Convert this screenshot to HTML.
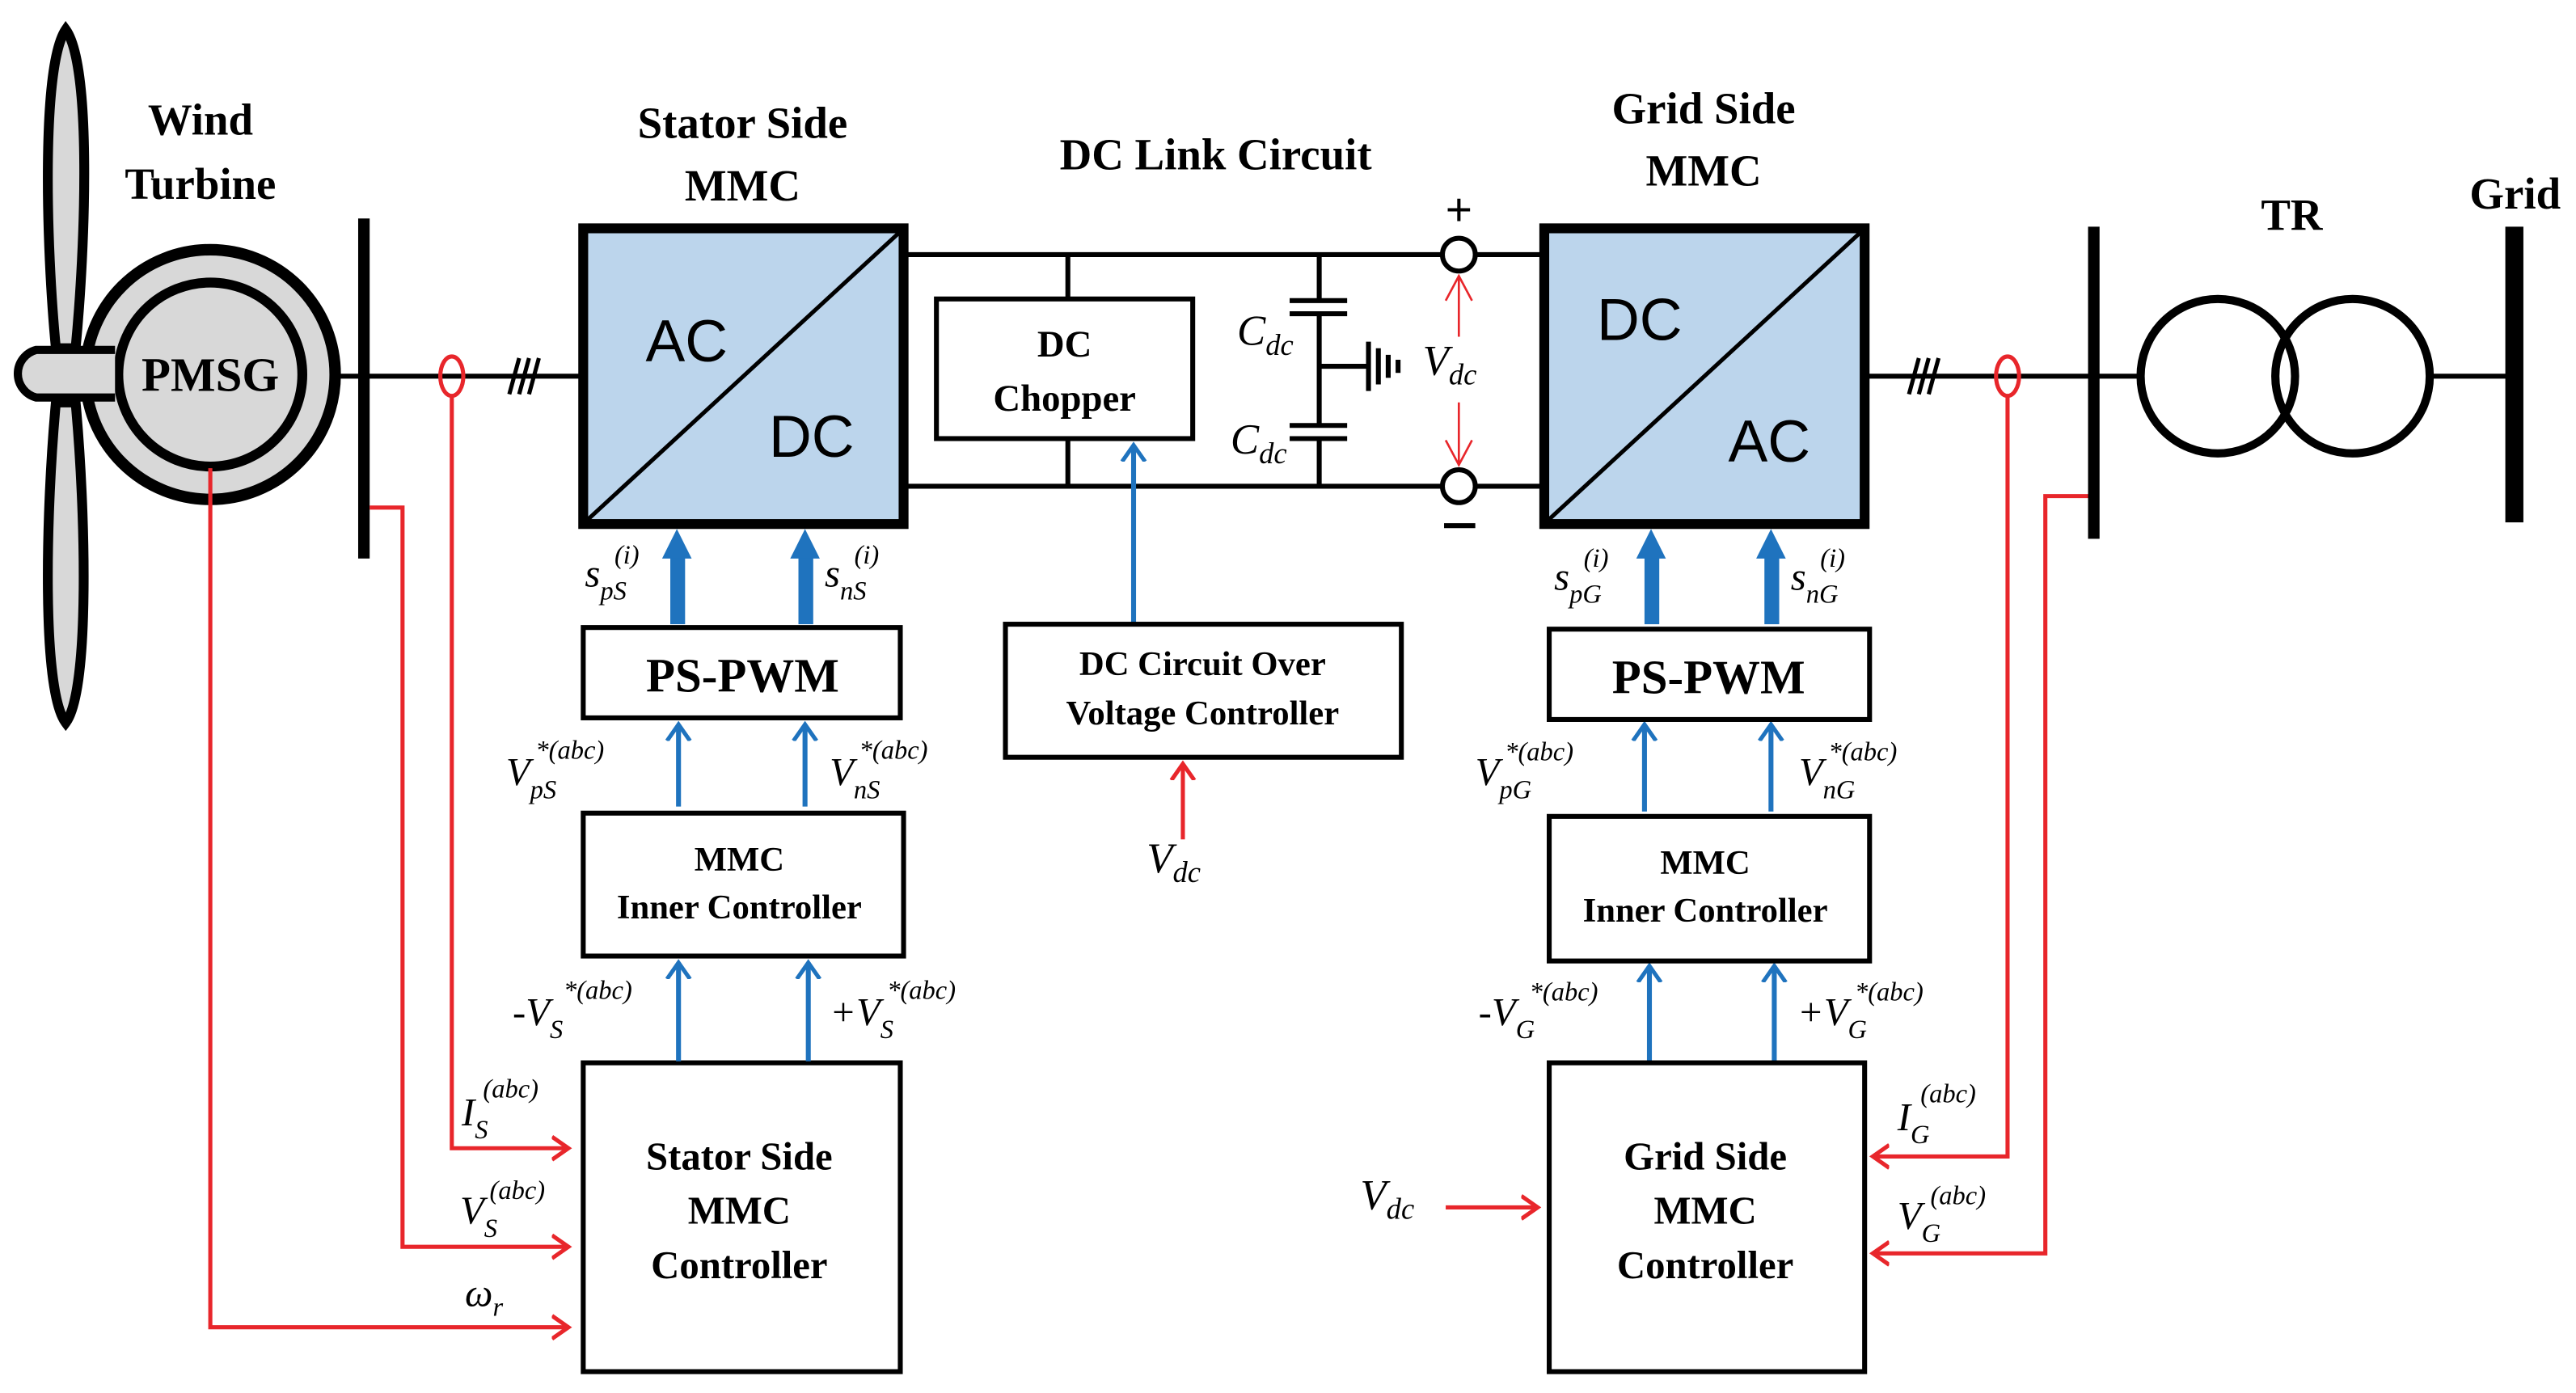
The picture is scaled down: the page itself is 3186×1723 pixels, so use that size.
<!DOCTYPE html>
<html><head><meta charset="utf-8"><style>
html,body{margin:0;padding:0;background:#fff;}
svg{display:block;}
.t{font-family:"Liberation Serif",serif;font-weight:bold;fill:#000;}
.m{font-family:"Liberation Serif",serif;font-style:italic;fill:#000;}
.s{font-family:"Liberation Sans",sans-serif;fill:#000;}
</style></head><body>
<svg width="3186" height="1723" viewBox="0 0 1568 848" xmlns="http://www.w3.org/2000/svg">
<defs>
<marker id="ab" markerWidth="20" markerHeight="20" refX="10" refY="10" orient="auto" markerUnits="userSpaceOnUse"><path d="M0,3 L10,10 L0,17" fill="none" stroke="#1f73be" stroke-width="2.5"/></marker>
<marker id="ar" markerWidth="20" markerHeight="20" refX="10" refY="10" orient="auto" markerUnits="userSpaceOnUse"><path d="M0,3 L10,10 L0,17" fill="none" stroke="#e8262b" stroke-width="2.5"/></marker>
</defs>
<rect width="1568" height="848" fill="#fff"/>

<!-- turbine blades -->
<path d="M40,18 C56,40 52,150 46,212 L34,212 C28,150 25,40 40,18Z" fill="#d8d8d8" stroke="#000" stroke-width="6"/>
<path d="M40,440 C55,420 52,310 46,245 L34,245 C28,310 25,420 40,440Z" fill="#d8d8d8" stroke="#000" stroke-width="6"/>
<!-- PMSG -->
<circle cx="128" cy="228" r="76" fill="#d8d8d8" stroke="#000" stroke-width="7"/>
<circle cx="128" cy="228" r="56" fill="#d8d8d8" stroke="#000" stroke-width="6"/>
<path d="M70,213 L22,213 A15,15 0 0 0 22,242 L70,242" fill="#d8d8d8" stroke="#000" stroke-width="5"/>
<text x="128" y="238" class="t" font-size="29" text-anchor="middle">PMSG</text>
<text x="122" y="82" class="t" font-size="27" text-anchor="middle">Wind</text>
<text x="122" y="121" class="t" font-size="27" text-anchor="middle">Turbine</text>

<!-- AC line left -->
<line x1="204" y1="229" x2="355" y2="229" stroke="#000" stroke-width="3"/>
<rect x="218" y="133" width="7" height="207" fill="#000"/>
<ellipse cx="275" cy="229" rx="7" ry="12" fill="none" stroke="#e8262b" stroke-width="2.5"/>
<g stroke="#000" stroke-width="2.5"><line x1="310" y1="240" x2="316" y2="218"/><line x1="316" y1="240" x2="322" y2="218"/><line x1="322" y1="240" x2="328" y2="218"/></g>

<!-- Stator MMC -->
<rect x="355" y="139" width="195" height="180" fill="#bcd5ec" stroke="#000" stroke-width="6"/>
<line x1="357" y1="317" x2="548" y2="141" stroke="#000" stroke-width="2.5"/>
<text x="418" y="220" class="s" font-size="36" text-anchor="middle">AC</text>
<text x="494" y="278" class="s" font-size="36" text-anchor="middle">DC</text>
<text x="452" y="84" class="t" font-size="27" text-anchor="middle">Stator Side</text>
<text x="452" y="122" class="t" font-size="27" text-anchor="middle">MMC</text>

<!-- DC link -->
<g stroke="#000" stroke-width="3" fill="none">
<line x1="550" y1="155" x2="878" y2="155"/><line x1="898" y1="155" x2="940" y2="155"/>
<line x1="550" y1="296" x2="878" y2="296"/><line x1="898" y1="296" x2="940" y2="296"/>
<line x1="650" y1="155" x2="650" y2="182"/><line x1="650" y1="267" x2="650" y2="296"/>
<line x1="803" y1="155" x2="803" y2="183"/><line x1="803" y1="191" x2="803" y2="259"/><line x1="803" y1="267" x2="803" y2="296"/>
<line x1="785" y1="183" x2="820" y2="183"/><line x1="785" y1="191" x2="820" y2="191"/>
<line x1="785" y1="259" x2="820" y2="259"/><line x1="785" y1="267" x2="820" y2="267"/>
<line x1="803" y1="223" x2="832" y2="223"/>
<line x1="833" y1="208" x2="833" y2="238"/><line x1="839" y1="212" x2="839" y2="234"/><line x1="845" y1="216" x2="845" y2="230"/><line x1="851" y1="219" x2="851" y2="227"/>
<circle cx="888" cy="155" r="10" stroke-width="3"/><circle cx="888" cy="296" r="10" stroke-width="3"/>
</g>
<rect x="570" y="182" width="156" height="85" fill="#fff" stroke="#000" stroke-width="3"/>
<text x="648" y="217" class="t" font-size="23" text-anchor="middle">DC</text>
<text x="648" y="250" class="t" font-size="23" text-anchor="middle">Chopper</text>
<text x="740" y="103" class="t" font-size="27" text-anchor="middle">DC Link Circuit</text>
<text x="753" y="210" class="m" font-size="26">C<tspan font-size="18" dy="6">dc</tspan></text>
<text x="749" y="276" class="m" font-size="26">C<tspan font-size="18" dy="6">dc</tspan></text>
<text x="888" y="137" class="s" font-size="28" text-anchor="middle">+</text>
<line x1="879" y1="320" x2="898" y2="320" stroke="#000" stroke-width="3"/>
<g stroke="#e8262b" stroke-width="1.3" fill="none">
<line x1="888" y1="168" x2="888" y2="205"/>
<line x1="888" y1="245" x2="888" y2="283"/>
<path d="M880,183 L888,168 L896,183 M880,268 L888,283 L896,268"/>
</g>
<text x="866" y="228" class="m" font-size="26">V<tspan font-size="18" dy="6">dc</tspan></text>

<!-- Grid MMC -->
<rect x="940" y="139" width="195" height="180" fill="#bcd5ec" stroke="#000" stroke-width="6"/>
<line x1="942" y1="317" x2="1133" y2="141" stroke="#000" stroke-width="2.5"/>
<text x="998" y="207" class="s" font-size="36" text-anchor="middle">DC</text>
<text x="1077" y="281" class="s" font-size="36" text-anchor="middle">AC</text>
<text x="1037" y="75" class="t" font-size="27" text-anchor="middle">Grid Side</text>
<text x="1037" y="113" class="t" font-size="27" text-anchor="middle">MMC</text>

<!-- right AC side -->
<line x1="1135" y1="229" x2="1302" y2="229" stroke="#000" stroke-width="3"/>
<g stroke="#000" stroke-width="2.5"><line x1="1162" y1="240" x2="1168" y2="218"/><line x1="1168" y1="240" x2="1174" y2="218"/><line x1="1174" y1="240" x2="1180" y2="218"/></g>
<ellipse cx="1222" cy="229" rx="7" ry="12" fill="none" stroke="#e8262b" stroke-width="2.5"/>
<rect x="1271" y="138" width="7" height="190" fill="#000"/>
<circle cx="1350" cy="229" r="47" fill="none" stroke="#000" stroke-width="5"/>
<circle cx="1432" cy="229" r="47" fill="none" stroke="#000" stroke-width="5"/>
<line x1="1479" y1="229" x2="1527" y2="229" stroke="#000" stroke-width="3"/>
<rect x="1525" y="138" width="11" height="180" fill="#000"/>
<text x="1395" y="140" class="t" font-size="27" text-anchor="middle">TR</text>
<text x="1531" y="127" class="t" font-size="27" text-anchor="middle">Grid</text>

<!-- stator control chain -->
<rect x="355" y="382" width="193" height="55" fill="#fff" stroke="#000" stroke-width="3"/>
<text x="452" y="421" class="t" font-size="29" text-anchor="middle">PS-PWM</text>
<rect x="355" y="495" width="195" height="87" fill="#fff" stroke="#000" stroke-width="3"/>
<text x="450" y="530" class="t" font-size="21" text-anchor="middle">MMC</text>
<text x="450" y="559" class="t" font-size="21" text-anchor="middle">Inner Controller</text>
<rect x="355" y="647" width="193" height="188" fill="#fff" stroke="#000" stroke-width="3"/>
<text x="450" y="712" class="t" font-size="24" text-anchor="middle">Stator Side</text>
<text x="450" y="745" class="t" font-size="24" text-anchor="middle">MMC</text>
<text x="450" y="778" class="t" font-size="24" text-anchor="middle">Controller</text>

<g fill="#1f73be">
<rect x="408" y="337" width="9" height="43"/><path d="M403,340 L412,322 L421,340Z"/>
<rect x="486" y="337" width="9" height="43"/><path d="M481,340 L490,322 L499,340Z"/>
<rect x="1001" y="337" width="9" height="43"/><path d="M996,340 L1005,322 L1014,340Z"/>
<rect x="1074" y="337" width="9" height="43"/><path d="M1069,340 L1078,322 L1087,340Z"/>
</g>
<g stroke="#1f73be" stroke-width="3" fill="none">
<line x1="413" y1="491" x2="413" y2="441" marker-end="url(#ab)"/>
<line x1="490" y1="491" x2="490" y2="441" marker-end="url(#ab)"/>
<line x1="413" y1="646" x2="413" y2="586" marker-end="url(#ab)"/>
<line x1="492" y1="646" x2="492" y2="586" marker-end="url(#ab)"/>
<line x1="1001" y1="494" x2="1001" y2="441" marker-end="url(#ab)"/>
<line x1="1078" y1="494" x2="1078" y2="441" marker-end="url(#ab)"/>
<line x1="1004" y1="646" x2="1004" y2="588" marker-end="url(#ab)"/>
<line x1="1080" y1="646" x2="1080" y2="588" marker-end="url(#ab)"/>
<line x1="690" y1="379" x2="690" y2="271" marker-end="url(#ab)"/>
</g>

<!-- labels stator -->
<text x="356" y="357" class="m" font-size="24">s<tspan font-size="16" dy="8">pS</tspan></text>
<text x="374" y="343" class="m" font-size="16">(i)</text>
<text x="502" y="357" class="m" font-size="24">s<tspan font-size="16" dy="8">nS</tspan></text>
<text x="520" y="343" class="m" font-size="16">(i)</text>
<text x="308" y="478" class="m" font-size="24">V<tspan font-size="16" dy="8">pS</tspan></text>
<text x="326" y="462" class="m" font-size="16">*(abc)</text>
<text x="505" y="478" class="m" font-size="24">V<tspan font-size="16" dy="8">nS</tspan></text>
<text x="523" y="462" class="m" font-size="16">*(abc)</text>
<text x="312" y="624" class="m" font-size="24">-V<tspan font-size="16" dy="8">S</tspan></text>
<text x="343" y="608" class="m" font-size="16">*(abc)</text>
<text x="505" y="624" class="m" font-size="24">+V<tspan font-size="16" dy="8">S</tspan></text>
<text x="540" y="608" class="m" font-size="16">*(abc)</text>
<text x="281" y="685" class="m" font-size="24">I<tspan font-size="16" dy="8">S</tspan></text>
<text x="294" y="668" class="m" font-size="16">(abc)</text>
<text x="280" y="745" class="m" font-size="24">V<tspan font-size="16" dy="8">S</tspan></text>
<text x="298" y="730" class="m" font-size="16">(abc)</text>
<text x="283" y="795" class="m" font-size="24">ω<tspan font-size="16" dy="6">r</tspan></text>

<!-- red feedback -->
<g stroke="#e8262b" stroke-width="2.5" fill="none">
<polyline points="275,241 275,699 346,699" marker-end="url(#ar)"/>
<polyline points="225,309 245,309 245,759 346,759" marker-end="url(#ar)"/>
<polyline points="128,285 128,808 346,808" marker-end="url(#ar)"/>
<polyline points="1222,241 1222,704 1140,704" marker-end="url(#ar)"/>
<polyline points="1271,302 1245,302 1245,763 1140,763" marker-end="url(#ar)"/>
<line x1="880" y1="735" x2="936" y2="735" marker-end="url(#ar)"/>
<line x1="720" y1="511" x2="720" y2="465" marker-end="url(#ar)"/>
</g>

<!-- DC over voltage -->
<rect x="612" y="380" width="241" height="81" fill="#fff" stroke="#000" stroke-width="3"/>
<text x="732" y="411" class="t" font-size="21" text-anchor="middle">DC Circuit Over</text>
<text x="732" y="441" class="t" font-size="21" text-anchor="middle">Voltage Controller</text>
<text x="698" y="531" class="m" font-size="26">V<tspan font-size="18" dy="6">dc</tspan></text>
<text x="828" y="736" class="m" font-size="26">V<tspan font-size="18" dy="6">dc</tspan></text>

<!-- grid control chain -->
<rect x="943" y="383" width="195" height="55" fill="#fff" stroke="#000" stroke-width="3"/>
<text x="1040" y="422" class="t" font-size="29" text-anchor="middle">PS-PWM</text>
<rect x="943" y="497" width="195" height="88" fill="#fff" stroke="#000" stroke-width="3"/>
<text x="1038" y="532" class="t" font-size="21" text-anchor="middle">MMC</text>
<text x="1038" y="561" class="t" font-size="21" text-anchor="middle">Inner Controller</text>
<rect x="943" y="647" width="192" height="188" fill="#fff" stroke="#000" stroke-width="3"/>
<text x="1038" y="712" class="t" font-size="24" text-anchor="middle">Grid Side</text>
<text x="1038" y="745" class="t" font-size="24" text-anchor="middle">MMC</text>
<text x="1038" y="778" class="t" font-size="24" text-anchor="middle">Controller</text>

<text x="946" y="359" class="m" font-size="24">s<tspan font-size="16" dy="8">pG</tspan></text>
<text x="964" y="345" class="m" font-size="16">(i)</text>
<text x="1090" y="359" class="m" font-size="24">s<tspan font-size="16" dy="8">nG</tspan></text>
<text x="1108" y="345" class="m" font-size="16">(i)</text>
<text x="898" y="478" class="m" font-size="24">V<tspan font-size="16" dy="8">pG</tspan></text>
<text x="916" y="463" class="m" font-size="16">*(abc)</text>
<text x="1095" y="478" class="m" font-size="24">V<tspan font-size="16" dy="8">nG</tspan></text>
<text x="1113" y="463" class="m" font-size="16">*(abc)</text>
<text x="900" y="624" class="m" font-size="24">-V<tspan font-size="16" dy="8">G</tspan></text>
<text x="931" y="609" class="m" font-size="16">*(abc)</text>
<text x="1094" y="624" class="m" font-size="24">+V<tspan font-size="16" dy="8">G</tspan></text>
<text x="1129" y="609" class="m" font-size="16">*(abc)</text>
<text x="1155" y="688" class="m" font-size="24">I<tspan font-size="16" dy="8">G</tspan></text>
<text x="1169" y="671" class="m" font-size="16">(abc)</text>
<text x="1155" y="748" class="m" font-size="24">V<tspan font-size="16" dy="8">G</tspan></text>
<text x="1175" y="733" class="m" font-size="16">(abc)</text>
</svg>
</body></html>
